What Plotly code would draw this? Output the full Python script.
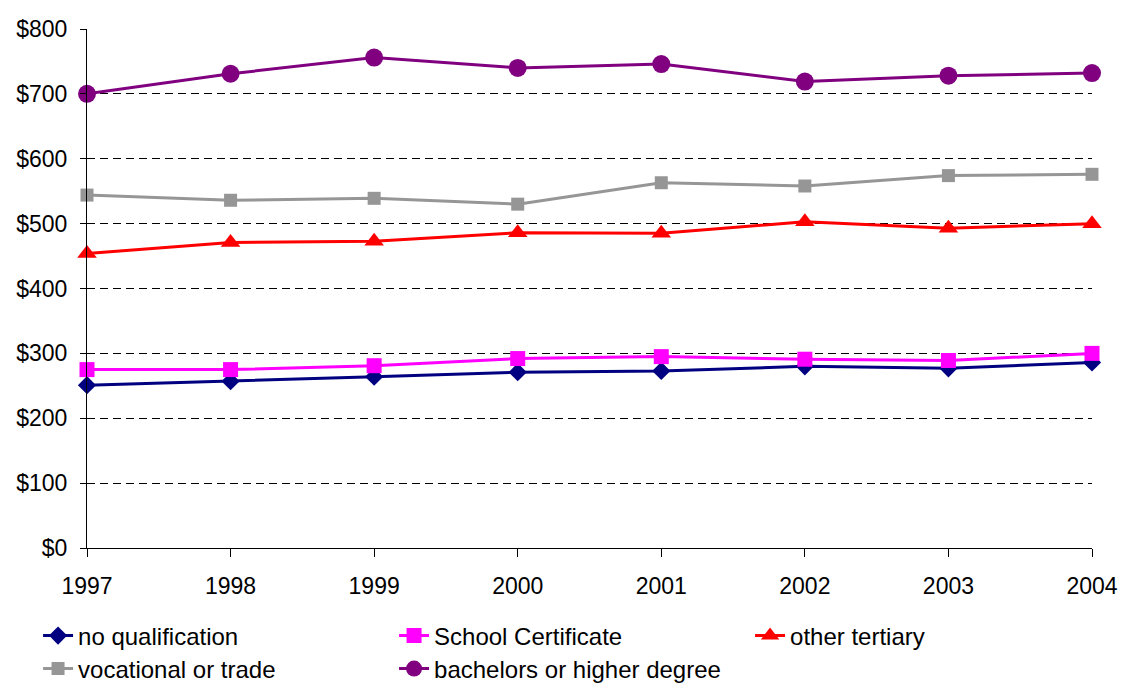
import plotly.graph_objects as go

years = [1997, 1998, 1999, 2000, 2001, 2002, 2003, 2004]

no_qualification = [251, 257, 264, 271, 273, 280, 277, 286]
school_certificate = [275, 275, 281, 292, 295, 291, 289, 300]
other_tertiary = [454, 471, 473, 486, 485, 503, 493, 500]
vocational_or_trade = [544, 536, 539, 530, 563, 558, 574, 576]
bachelors_or_higher = [700, 731, 756, 740, 746, 719, 728, 732]

y_ticks = [0, 100, 200, 300, 400, 500, 600, 700, 800]
y_tick_labels = ["$" + str(v) for v in y_ticks]

# name, values, colour, marker symbol, marker size, legend row
series = [
    ("no qualification", no_qualification, "#000080", "diamond", 14, "legend"),
    ("School Certificate", school_certificate, "#FF00FF", "square", 15, "legend"),
    ("other tertiary", other_tertiary, "#FF0000", "triangle-up", 17, "legend"),
    ("vocational or trade", vocational_or_trade, "#969696", "square", 13, "legend2"),
    ("bachelors or higher degree", bachelors_or_higher, "#800080", "circle", 18, "legend2"),
]

fig = go.Figure()
for name, vals, color, symbol, size, leg in series:
    fig.add_trace(go.Scatter(
        x=years, y=vals, name=name, mode="lines+markers",
        line=dict(color=color, width=3),
        marker=dict(symbol=symbol, size=size, color=color),
        cliponaxis=False, legend=leg,
    ))

font_family = "Liberation Sans, Arial, sans-serif"
legend_style = dict(
    orientation="h", x=-0.0487, xanchor="left", yanchor="middle",
    font=dict(size=24), entrywidth=311, entrywidthmode="pixels",
    itemwidth=30, bgcolor="rgba(0,0,0,0)",
)

fig.update_layout(
    width=1121, height=684,
    margin=dict(l=87, r=29, t=29, b=136, autoexpand=False),
    plot_bgcolor="white", paper_bgcolor="white",
    font=dict(family=font_family, size=23, color="black"),
    showlegend=True,
    legend=dict(y=-0.1695, **legend_style),
    legend2=dict(y=-0.2331, **legend_style),
)

fig.update_xaxes(
    range=[1997, 2004], tickmode="array", tickvals=years,
    ticktext=[str(y) for y in years],
    showgrid=False, showline=True, linecolor="black", linewidth=1,
    ticks="outside", ticklen=8, tickcolor="black", tickwidth=1,
    ticklabelstandoff=9, zeroline=False, tickfont=dict(size=23),
)
fig.update_yaxes(
    range=[0, 800], tickmode="array", tickvals=y_ticks, ticktext=y_tick_labels,
    showgrid=True, gridcolor="black", gridwidth=1, griddash="8px,5px",
    showline=True, linecolor="black", linewidth=1,
    ticks="outside", ticklen=6, tickcolor="black", tickwidth=1,
    ticklabelstandoff=8, zeroline=False, tickfont=dict(size=23),
)

fig.write_html("out.html")
